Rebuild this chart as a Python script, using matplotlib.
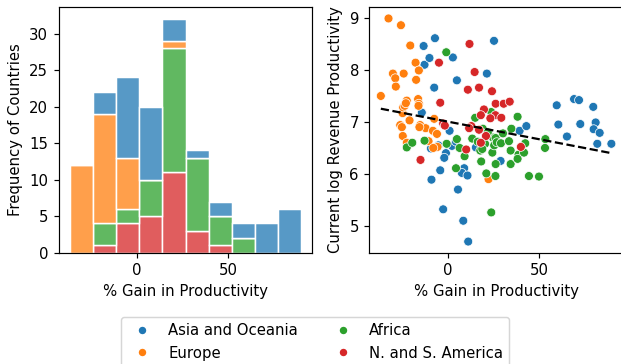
import numpy as np
import pandas as pd
import matplotlib
matplotlib.use("Agg")
import matplotlib.pyplot as plt
from matplotlib.lines import Line2D
import seaborn as sns

regions = ["Asia and Oceania", "Europe", "Africa", "N. and S. America"]

# % gain in productivity and current log revenue productivity, per country
asia_gain = [-13.1, -12.6, -14.1,
             -6.9, -9.9, -7.3, 1.1, -0.9, -1.8, -9.1, -4.0, -8.8, -2.4, -5.0,
             2.9, 5.1, 2.4, 9.1, 7.8, 10.9, 5.7, 8.6, 11.3, 4.6,
             25.4, 21.5, 15.5, 29.0, 39.4, 43.1, 59.7, 60.6,
             65.3, 69.2, 71.9, 72.6, 79.7, 81.0, 79.9, 83.2, 81.9, 89.6]
asia_logprod = [8.46, 8.10, 7.18,
                8.61, 8.23, 7.66, 6.83, 6.40, 6.31, 6.49, 6.07, 5.89, 5.32, 6.55,
                8.24, 7.80, 6.54, 6.11, 6.02, 5.97, 5.70, 5.10, 4.70, 6.62,
                8.56, 7.93, 6.51, 6.25, 6.83, 6.92, 7.32, 6.95,
                6.72, 7.44, 7.42, 6.96, 7.29, 6.99, 6.86, 6.79, 6.58, 6.58]

europe_gain = [-32.3, -25.5, -29.9, -28.6, -24.0, -28.3, -36.5, -24.6, -25.9, -24.5, -24.3, -25.0,
               -20.4, -17.5, -15.7, -17.2, -22.3, -16.1, -15.7, -15.9, -23.5, -20.8, -15.0, -12.0,
               -22.3, -22.8, -15.4,
               -7.3, -8.0, -5.8, -6.8, -5.5, -10.4, -7.8,
               22.4]
europe_logprod = [8.99, 8.86, 7.93, 7.84, 7.93, 7.68, 7.50, 7.17, 6.94, 6.73, 7.28, 6.90,
                  8.47, 8.14, 7.99, 7.81, 7.41, 7.44, 7.35, 7.31, 7.31, 7.03, 6.94, 6.88,
                  6.60, 7.36, 6.90,
                  7.06, 6.83, 6.77, 6.51, 6.52, 6.63, 6.50,
                  5.90]

africa_gain = [-22.3, -19.3, -12.6,
               -0.7, -0.5,
               5.1, 6.6, 4.6, 9.3, 13.5,
               15.1, 19.3, 17.9, 18.4, 21.2, 23.9, 24.8, 24.5, 26.3, 26.3, 23.9, 26.2,
               16.5, 20.5, 22.0, 19.0, 25.5,
               26.9, 29.2, 30.3, 33.6, 34.9, 34.5, 34.5, 38.3, 38.8, 38.3,
               42.5, 41.8, 44.5, 50.0,
               53.5, 53.3]
africa_logprod = [6.51, 6.60, 6.64,
                  8.34, 6.58,
                  6.67, 6.50, 6.11, 6.34, 6.68,
                  7.08, 6.87, 6.45, 6.24, 6.01, 7.19, 6.70, 6.41, 6.69, 6.19, 5.26, 5.96,
                  6.62, 6.58, 6.80, 6.48, 6.55,
                  6.61, 6.59, 6.78, 6.63, 6.87, 6.45, 6.19, 7.10, 6.37, 6.29,
                  6.59, 6.41, 5.96, 5.95,
                  6.67, 6.50]

america_gain = [-14.8,
                -4.7, -4.0, -2.4, -1.5,
                12.0, 11.1, 13.0, 10.2, 11.8,
                14.8, 17.2, 24.3, 26.3, 19.9, 18.2, 26.2, 23.4, 17.2, 21.0, 18.2,
                30.7, 34.0, 29.4,
                40.1]
america_logprod = [6.27,
                   8.14, 7.37, 6.97, 6.93,
                   8.50, 7.62, 6.92, 6.47, 6.88,
                   7.96, 7.66, 7.59, 7.35, 7.24, 7.13, 7.13, 7.07, 6.85, 6.73, 6.60,
                   7.35, 7.39, 7.08,
                   6.52]

gains = [asia_gain, europe_gain, africa_gain, america_gain]
logprods = [asia_logprod, europe_logprod, africa_logprod, america_logprod]

df = pd.concat(
    [pd.DataFrame({"gain": g, "logprod": p, "region": r})
     for g, p, r in zip(gains, logprods, regions)],
    ignore_index=True,
)

W, H = 621, 364
DPI = 107
fig = plt.figure(figsize=(W / DPI, H / DPI), dpi=DPI)

def px_axes(left, top, width, height):
    return fig.add_axes([left / W, 1 - (top + height) / H, width / W, height / H])

ax1 = px_axes(58.7, 7.3, 253.6, 245.4)
ax2 = px_axes(369.3, 7.3, 253.6, 245.4)

palette = sns.color_palette("tab10", 4)

sns.histplot(data=df, x="gain", hue="region", hue_order=regions,
             multiple="stack", bins=10, palette=palette, legend=False,
             edgecolor="white", linewidth=1.0, ax=ax1)
ax1.set_xlabel("% Gain in Productivity")
ax1.set_ylabel("Frequency of Countries")

sns.scatterplot(data=df, x="gain", y="logprod", hue="region", hue_order=regions,
                palette=palette, legend=False, ax=ax2)
sns.regplot(data=df, x="gain", y="logprod", scatter=False, ci=None,
            color="black", line_kws={"linestyle": "--", "linewidth": 1.5}, ax=ax2)
ax2.set_xlabel("% Gain in Productivity")
ax2.set_ylabel("Current log Revenue Productivity")

handles = [Line2D([], [], marker="o", linestyle="", color=c, markeredgecolor="white",
                  markersize=np.sqrt(36), label=r) for c, r in zip(palette, regions)]
fig.legend(handles=handles, ncol=2, loc="upper left",
           bbox_to_anchor=(120.7 / W, 1 - 317.3 / H), borderaxespad=0)

fig.savefig("out.png", dpi=DPI)
